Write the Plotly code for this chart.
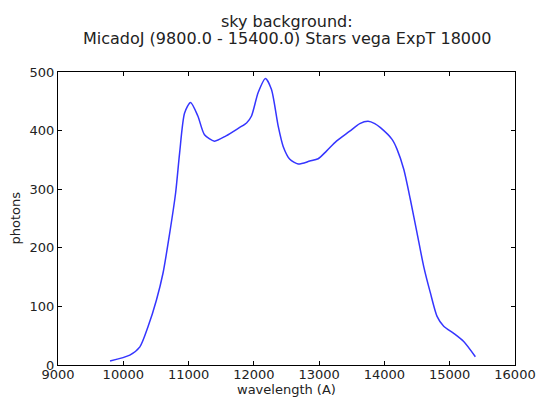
import plotly.graph_objects as go

wavelength = [9797, 10100, 10254, 10381, 10508, 10609, 10711, 10802, 10863, 10939,
              11030, 11142, 11244, 11396, 11574, 11777, 11888, 11964, 12066, 12178,
              12270, 12372, 12449, 12551, 12679, 12857, 12985, 13112, 13265, 13469,
              13622, 13750, 13852, 13939, 14117, 14194, 14296, 14398, 14500, 14602,
              14704, 14806, 14908, 15061, 15214, 15393]
photons = [7, 17, 31, 66, 111, 157, 225, 294, 362, 430,
           448, 425, 393, 382, 391, 405, 413, 425, 465, 489,
           470, 408, 373, 351, 343, 348, 352, 365, 382, 399,
           412, 416, 412, 405, 385, 368, 334, 282, 225, 168,
           123, 83, 66, 54, 40, 14]

x_ticks = [9000, 10000, 11000, 12000, 13000, 14000, 15000, 16000]
y_ticks = [0, 100, 200, 300, 400, 500]

title_line1 = "sky background:"
title_line2 = "MicadoJ (9800.0 - 15400.0) Stars vega ExpT 18000"

font_family = "DejaVu Sans"
txt_color = "#222222"

fig = go.Figure()
fig.add_trace(go.Scatter(
    x=wavelength, y=photons, mode="lines",
    line=dict(color="#3535ff", width=1.5, shape="spline", smoothing=0.7),
    showlegend=False, hoverinfo="skip"))

axis_common = dict(
    showline=True, linecolor="black", linewidth=1, mirror="allticks",
    ticks="inside", ticklen=4, tickcolor="black", tickwidth=1,
    showgrid=False, zeroline=False, automargin=False,
    tickfont=dict(family=font_family, size=13, color=txt_color),
)

fig.update_layout(
    width=538, height=397,
    margin=dict(l=58, r=23, t=72, b=32, autoexpand=False),
    paper_bgcolor="white", plot_bgcolor="white",
    font=dict(family=font_family, color=txt_color),
    xaxis=dict(range=[9000, 16000], tickvals=x_ticks,
               ticktext=[str(v) for v in x_ticks], ticklabelstandoff=-3,
               **axis_common),
    yaxis=dict(range=[0, 500], tickvals=y_ticks,
               ticktext=[str(v) for v in y_ticks], **axis_common),
    annotations=[
        dict(text=title_line1, xref="paper", yref="paper", x=0.5, y=1,
             yshift=51, xanchor="center", yanchor="middle", showarrow=False,
             font=dict(family=font_family, size=16, color=txt_color)),
        dict(text=title_line2, xref="paper", yref="paper", x=0.5, y=1,
             yshift=34, xanchor="center", yanchor="middle", showarrow=False,
             font=dict(family=font_family, size=16, color=txt_color)),
        dict(text="wavelength (A)", xref="paper", yref="paper", x=0.5, y=0,
             yshift=-24, xanchor="center", yanchor="middle", showarrow=False,
             font=dict(family=font_family, size=13, color=txt_color)),
        dict(text="photons", xref="paper", yref="paper", x=0, y=0.5,
             xshift=-43, xanchor="center", yanchor="middle", showarrow=False,
             textangle=-90,
             font=dict(family=font_family, size=13, color=txt_color)),
    ],
)

fig.write_html("out.html")
